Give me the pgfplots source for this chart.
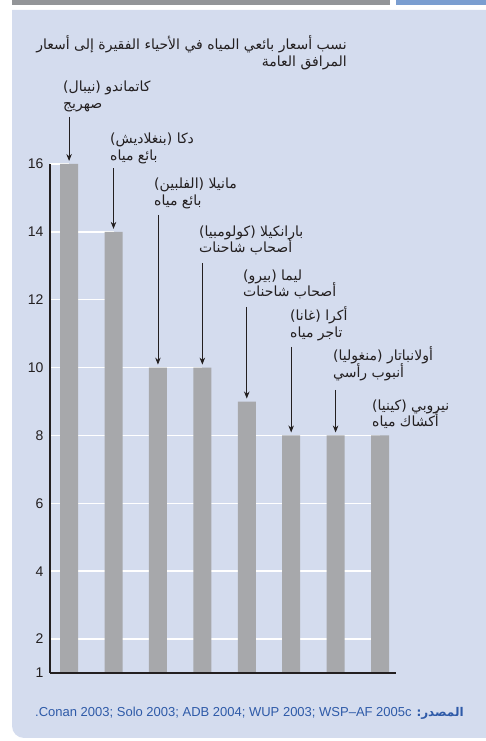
\documentclass[border=0pt]{standalone}
\usepackage{pgfplots}
\pgfplotsset{compat=1.18}
\usetikzlibrary{arrows.meta}
\usepackage{fontspec}
\setmainfont{Liberation Sans}
\newfontfamily\arabicfont[Script=Arabic]{DejaVu Sans}
\TeXXeTstate=1

\definecolor{panel}{HTML}{D4DCEE}
\definecolor{topgray}{HTML}{939598}
\definecolor{topblue}{HTML}{7B9ED0}
\definecolor{bargray}{HTML}{A7A8AB}
\definecolor{ink}{HTML}{231F20}
\definecolor{srcblue}{HTML}{2E5AA8}

\begin{document}
\begin{tikzpicture}[x=1pt,y=1pt,
  lbl/.style={anchor=base west, inner sep=0pt, text=ink,
    font=\arabicfont\fontsize{14}{16}\selectfont},
  ttl/.style={anchor=base east, inner sep=0pt, text=ink,
    font=\arabicfont\fontsize{14}{16}\selectfont},
  callout/.style={ink, line width=0.8pt, -{Stealth[length=7pt,width=5.5pt]}, shorten >=3pt}]
\path[use as bounding box] (0pt,0pt) rectangle (486pt,741pt);
% header strips and panel
\fill[topgray] (12pt,736pt) rectangle (390pt,741pt);
\fill[topblue] (396pt,736pt) rectangle (486pt,741pt);
\fill[panel] (12pt,731pt) -- (12pt,15pt) arc[start angle=180,end angle=270,radius=12pt] -- (486pt,3pt) -- (486pt,731pt) -- cycle;

\begin{axis}[
  at={(50pt,68pt)}, anchor=south west,
  scale only axis, width=346pt, height=509pt,
  xmin=-0.43, xmax=7.36, ymin=1, ymax=16,
  axis x line*=bottom, axis y line*=left,
  x axis line style={-, ink, line width=2.4pt},
  y axis line style={-, ink, line width=1.8pt},
  xtick=\empty,
  ytick={1,2,4,6,8,10,12,14,16},
  major tick length=0pt,
  /pgf/number format/assume math mode=true,
  yticklabel style={font=\fontsize{14}{14}\selectfont, text=ink, anchor=east, xshift=-3pt},
  clip mode=individual,
  axis on top,
]
% white guide lines
\addplot[white, line width=1.5pt] coordinates {(-0.43,2) (7,2)};
\addplot[white, line width=1.5pt] coordinates {(-0.43,4) (7,4)};
\addplot[white, line width=1.5pt] coordinates {(-0.43,6) (7,6)};
\addplot[white, line width=1.5pt] coordinates {(-0.43,8) (7,8)};
\addplot[white, line width=1.5pt] coordinates {(-0.43,10) (3,10)};
\addplot[white, line width=1.5pt] coordinates {(-0.43,12) (1,12)};
\addplot[white, line width=1.5pt] coordinates {(-0.43,14) (1,14)};
\addplot[white, line width=1.5pt] coordinates {(-0.43,16) (0,16)};
% price ratios
\addplot[ybar, bar width=18pt, fill=bargray, draw=none]
  coordinates {(0,16) (1,14) (2,10) (3,10) (4,9) (5,8) (6,8) (7,8)};
% callout arrows
\draw[callout] (axis cs:0,17.39) -- (axis cs:0,16);
\draw[callout] (axis cs:1,15.88) -- (axis cs:1,14);
\draw[callout] (axis cs:2,14.50) -- (axis cs:2,10);
\draw[callout] (axis cs:3,13.08) -- (axis cs:3,10);
\draw[callout] (axis cs:4,11.79) -- (axis cs:4,9);
\draw[callout] (axis cs:5,10.61) -- (axis cs:5,8);
\draw[callout] (axis cs:6,9.34) -- (axis cs:6,8);
\end{axis}

% title
\node[ttl] at (347pt,691pt) {\beginR نسب أسعار بائعي المياه في الأحياء الفقيرة إلى أسعار\endR};
\node[ttl] at (347pt,674pt) {\beginR المرافق العامة\endR};

% city / vendor labels
\node[lbl] at (63pt,649pt) {\beginR كاتماندو (نيبال)\endR};
\node[lbl] at (63pt,632pt) {\beginR صهريج\endR};
\node[lbl] at (110pt,597pt) {\beginR دكا (بنغلاديش)\endR};
\node[lbl] at (110pt,580pt) {\beginR بائع مياه\endR};
\node[lbl] at (154pt,552pt) {\beginR مانيلا (الفلبين)\endR};
\node[lbl] at (154pt,535pt) {\beginR بائع مياه\endR};
\node[lbl] at (199pt,504pt) {\beginR بارانكيلا (كولومبيا)\endR};
\node[lbl] at (199pt,488pt) {\beginR أصحاب شاحنات\endR};
\node[lbl] at (243pt,460pt) {\beginR ليما (بيرو)\endR};
\node[lbl] at (243pt,444pt) {\beginR أصحاب شاحنات\endR};
\node[lbl] at (290pt,420pt) {\beginR أكرا (غانا)\endR};
\node[lbl] at (290pt,403pt) {\beginR تاجر مياه\endR};
\node[lbl] at (333pt,380pt) {\beginR أولانباتار (منغوليا)\endR};
\node[lbl] at (333pt,363pt) {\beginR أنبوب رأسي\endR};
\node[lbl] at (372pt,330pt) {\beginR نيروبي (كينيا)\endR};
\node[lbl] at (372pt,314pt) {\beginR أكشاك مياه\endR};

% source line
\node[anchor=base west, inner sep=0pt, text=srcblue, font=\fontsize{13}{15}\selectfont]
  at (35pt,24pt) {\beginR{\arabicfont\bfseries\fontsize{12}{15}\selectfont المصدر:} \beginL Conan 2003; Solo 2003; ADB 2004; WUP 2003; WSP–AF 2005c\endL.\endR};
\end{tikzpicture}
\end{document}
